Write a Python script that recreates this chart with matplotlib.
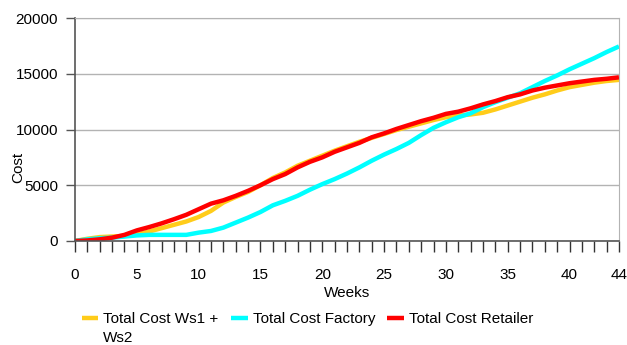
import matplotlib
matplotlib.use("Agg")
import matplotlib.pyplot as plt

plt.rcParams['font.family'] = ['Liberation Sans', 'DejaVu Sans']

weeks = list(range(45))

cost_ws = [0, 200, 350, 400, 450, 600, 850, 1150, 1450, 1750,
           2150, 2700, 3450, 3950, 4400, 5000, 5650, 6150, 6750, 7200,
           7650, 8100, 8500, 8900, 9250, 9600, 9950, 10250, 10550, 10850,
           11100, 11250, 11350, 11500, 11800, 12150, 12500, 12850, 13150, 13500,
           13800, 14000, 14200, 14350, 14450]

cost_factory = [0, 150, 250, 300, 400, 500, 550, 550, 550, 550,
                750, 900, 1200, 1650, 2100, 2600, 3200, 3600, 4050, 4600,
                5100, 5550, 6050, 6600, 7200, 7750, 8250, 8800, 9500, 10150,
                10650, 11100, 11450, 12000, 12450, 12850, 13250, 13800, 14350, 14850,
                15400, 15900, 16400, 16950, 17450]

cost_retailer = [0, 50, 150, 300, 550, 950, 1250, 1580, 1950, 2350,
                 2850, 3350, 3650, 4050, 4500, 5000, 5550, 6000, 6600, 7100,
                 7500, 8000, 8400, 8800, 9300, 9650, 10050, 10400, 10750, 11050,
                 11400, 11600, 11900, 12250, 12550, 12900, 13150, 13500, 13750, 13950,
                 14150, 14300, 14450, 14550, 14680]

series_labels = ["Total Cost Ws1 +", "Total Cost Factory", "Total Cost Retailer"]
label_continuation = "Ws2"
series_colors = ["#ffcc1a", "#00ffff", "#ff0000"]

y_ticks = [0, 5000, 10000, 15000, 20000]
x_tick_labels = [0, 5, 10, 15, 20, 25, 30, 35, 40, 44]

FS = 11

fig = plt.figure(figsize=(6.27, 3.45), dpi=100)
ax = fig.add_axes([75 / 627, 1 - 241 / 345, (619 - 75) / 627, (241 - 18) / 345])

for vals, lab, col in zip([cost_ws, cost_factory, cost_retailer], series_labels, series_colors):
    ax.plot(weeks, vals, color=col, lw=3.2, label=lab, solid_capstyle='butt',
            solid_joinstyle='miter')

ax.set_xlim(0, 44)
ax.set_ylim(0, 20000)

ax.set_yticks(y_ticks)
ax.set_yticklabels([str(v) for v in y_ticks], fontsize=FS)
ax.set_xticks(weeks)
ax.set_xticklabels([str(w) if w in x_tick_labels else "" for w in weeks], fontsize=FS)

ax.tick_params(axis='x', direction='out', length=8, width=1, color='#333333', pad=11.5)
ax.tick_params(axis='y', direction='out', length=6.5, width=1, color='#555555', pad=5.8)

ax.grid(axis='y', color='#b3b3b3', lw=1)
ax.set_axisbelow(True)

for side in ['left', 'bottom']:
    ax.spines[side].set_color('#555555')
    ax.spines[side].set_linewidth(1.2)
ax.spines['right'].set_color('#b3b3b3')
ax.spines['top'].set_color('#b3b3b3')

ax.set_xlabel("Weeks", fontsize=FS, labelpad=3)
ax.set_ylabel("Cost", fontsize=FS)
ax.yaxis.set_label_coords((25 - 75) / 544, 0.33)

leg = fig.legend(loc='upper left', bbox_to_anchor=(81.7 / 627, 1 - 312 / 345), ncol=3,
                 frameon=False, fontsize=FS, handlelength=1.09, handletextpad=0.33,
                 columnspacing=0.8, borderaxespad=0, borderpad=0)

# second line of the first legend entry, placed under its first line
fig.canvas.draw()
first = leg.get_texts()[0].get_window_extent()
fig.text(first.x0 / fig.bbox.width, (first.y0 - 19) / fig.bbox.height,
         label_continuation, fontsize=FS, ha='left', va='bottom')

fig.savefig("out.png", dpi=100)
